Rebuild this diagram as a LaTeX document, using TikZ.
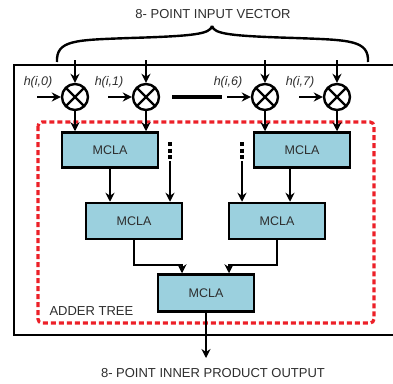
\documentclass[tikz,border=0pt]{standalone}
\usepackage{fontspec}
\setmainfont{Liberation Sans}
\usetikzlibrary{arrows.meta,positioning,calc}
\definecolor{mclablue}{RGB}{155,208,222}
\definecolor{txtgray}{RGB}{45,45,45}
\definecolor{treered}{RGB}{236,32,40}

\begin{document}
\begin{tikzpicture}[x=1pt, y=-1pt, >={Stealth[length=9pt,width=9pt]},
  mcla/.style={rectangle, draw, line width=2.5pt, fill=mclablue, minimum width=96pt, minimum height=35pt, font=\fontsize{12.5}{14}\selectfont, text=txtgray},
  mult/.style={circle, draw, line width=2.4pt, minimum size=26pt, inner sep=0pt, path picture={\draw[line width=2.4pt] (path picture bounding box.north west) -- (path picture bounding box.south east) (path picture bounding box.north east) -- (path picture bounding box.south west);}},
  wire/.style={line width=2.4pt},
  lbl/.style={font=\fontsize{13}{15}\selectfont, text=txtgray}]
\useasboundingbox (0,0) rectangle (393,383);
% outer box and brace
\draw[wire] (393,65) -- (14,65) -- (14,335) -- (393,335);
\draw[wire] (57,62) .. controls (56,40) and (75,40) .. (130,38) .. controls (195,36) and (210,34) .. (212,26);
\draw[wire] (368,62) .. controls (369,40) and (350,40) .. (295,38) .. controls (230,36) and (214,34) .. (212,26);
\node[lbl] (title) at (213,14) {8- POINT INPUT VECTOR};
% multipliers
\node[mult] (m0) at (75,97) {};
\node[mult] (m1) at (146,97) {};
\node[mult] (m6) at (265,97) {};
\node[mult] (m7) at (337,97) {};
\foreach \m/\k in {m0/0, m1/1, m6/6, m7/7} {
  \coordinate (t\k) at ($(\m.center)+(0,-37)$);
  \coordinate (l\k) at ($(\m.center)+(-38,0)$);
  \draw[wire,->] (t\k) -- (\m.north);
  \draw[wire,->] (l\k) -- (\m.west);
  \node[lbl, font=\fontsize{12.5}{14}\selectfont\itshape] (h\k) at ($(\m.center)+(-37,-15)$) {h(i,\k)};
}
\draw[line width=4.5pt] (172,97) -- (222,97);
% adder tree
\draw[treered, line width=3.2pt, dash pattern=on 5pt off 3pt, rounded corners=4pt] (38,122) rectangle (374,323);
\node[lbl, anchor=west] (adder) at (46,311) {ADDER TREE};
\node[mcla] (a1) at (110,150) {MCLA};
\node[mcla] (a2) at (302,150) {MCLA};
\node[mcla, minimum height=36pt] (b1) at (134,221) {MCLA};
\node[mcla, minimum height=36pt] (b2) at (277,221) {MCLA};
\node[mcla, minimum height=37pt] (c) at (206,293) {MCLA};
\foreach \m in {m0, m1} \draw[wire,->] (\m.south) -- (\m.south |- a1.north);
\foreach \m in {m6, m7} \draw[wire,->] (\m.south) -- (\m.south |- a2.north);
\draw[wire,->] (a1.south) -- (a1.south |- b1.north);
\draw[wire,->] ([xshift=-12pt]a2.south) -- ([xshift=-12pt]a2.south |- b2.north);
\coordinate (d1) at (170,142);
\coordinate (d2) at (242,142);
\foreach \d in {d1, d2} \draw[line width=3.5pt, dash pattern=on 4pt off 2.5pt] (\d) -- ++(0,19);
\draw[wire,->] ($(d1)+(0,19)$) -- (d1 |- b1.north);
\draw[wire,->] ($(d2)+(0,19)$) -- (d2 |- b2.north);
\draw[wire,->] (b1.south) -- ++(0,25) -| ([xshift=-24pt]c.north);
\draw[wire,->] (b2.south) -- ++(0,25) -| ([xshift=23pt]c.north);
% output
\coordinate (out) at (206,358);
\draw[wire,->] (c.south) -- (out);
\node[lbl] (otext) at (213,373) {8- POINT INNER PRODUCT OUTPUT};
\end{tikzpicture}
\end{document}
